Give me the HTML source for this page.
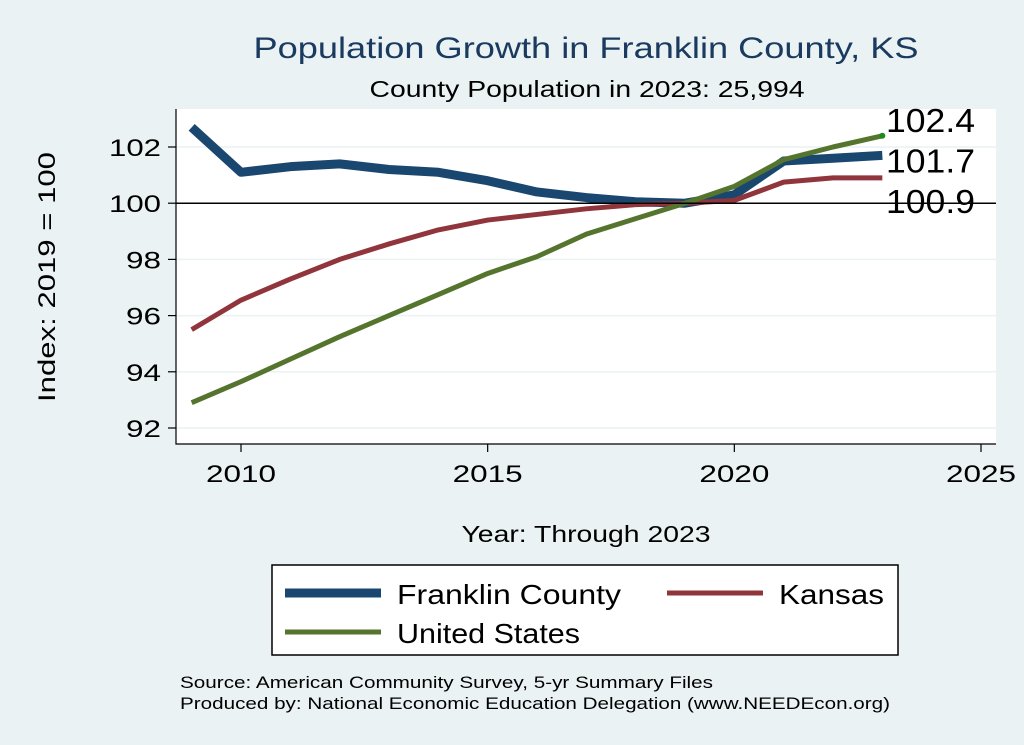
<!DOCTYPE html>
<html><head><meta charset="utf-8"><style>
body{margin:0;background:#eaf2f3;}
svg{display:block;font-family:"Liberation Sans",sans-serif;}
</style></head><body>
<svg width="1024" height="745" viewBox="0 0 1024 745">
<rect x="0" y="0" width="1024" height="745" fill="#eaf2f3"/>
<text x="586" y="58" font-size="30" fill="#1a3a60" text-anchor="middle" textLength="665" lengthAdjust="spacingAndGlyphs">Population Growth in Franklin County, KS</text>
<text x="587" y="97" font-size="23" fill="#000" text-anchor="middle" textLength="435" lengthAdjust="spacingAndGlyphs">County Population in 2023: 25,994</text>
<rect x="176" y="109" width="820" height="335" fill="#fff"/>
<g id="grid"></g>
<g id="lines"></g>
<g id="axes"></g>
<text transform="translate(55,277) rotate(-90)" font-size="24" text-anchor="middle" textLength="250" lengthAdjust="spacingAndGlyphs">Index: 2019 = 100</text>
<text x="586" y="542" font-size="23" text-anchor="middle" textLength="249" lengthAdjust="spacingAndGlyphs">Year: Through 2023</text>
<g>
<rect x="272" y="565" width="626" height="90" fill="#fff" stroke="#000" stroke-width="1.5"/>
<line x1="285" y1="593" x2="381" y2="593" stroke="#1a476f" stroke-width="9"/>
<text x="397" y="604" font-size="28" textLength="224" lengthAdjust="spacingAndGlyphs">Franklin  County</text>
<line x1="667" y1="593" x2="763" y2="593" stroke="#90353b" stroke-width="5"/>
<text x="779" y="604" font-size="28" textLength="105" lengthAdjust="spacingAndGlyphs">Kansas</text>
<line x1="285" y1="632" x2="381" y2="632" stroke="#55752f" stroke-width="5"/>
<text x="397" y="643" font-size="28" textLength="183" lengthAdjust="spacingAndGlyphs">United States</text>
</g>
<text x="180" y="688" font-size="17" textLength="533" lengthAdjust="spacingAndGlyphs">Source: American Community Survey, 5-yr Summary Files</text>
<text x="180" y="709" font-size="17" textLength="710" lengthAdjust="spacingAndGlyphs">Produced by: National Economic Education Delegation (www.NEEDEcon.org)</text>
</svg>
<script>
const years=[2009,2010,2011,2012,2013,2014,2015,2016,2017,2018,2019,2020,2021,2022,2023];
const franklin=[102.7,101.1,101.3,101.4,101.2,101.1,100.8,100.4,100.2,100.05,100,100.3,101.5,101.6,101.7];
const kansas=[95.5,96.55,97.3,98.0,98.55,99.05,99.4,99.6,99.8,99.95,100,100.1,100.75,100.9,100.9];
const us=[92.9,93.65,94.45,95.25,96.0,96.75,97.5,98.1,98.9,99.45,100,100.6,101.55,102.0,102.4];
const yTicks=[92,94,96,98,100,102];
const xTicks=[2010,2015,2020,2025];
const endLabels=["102.4","101.7","100.9"];
const NS="http://www.w3.org/2000/svg";
function X(v){return 241+(v-2010)*(981-241)/15;}
function Y(v){return 147+(102-v)*(428-147)/10;}
function mk(t,a,p){const e=document.createElementNS(NS,t);for(const k in a)e.setAttribute(k,a[k]);p.appendChild(e);return e;}
const grid=document.getElementById('grid'),axes=document.getElementById('axes'),lines=document.getElementById('lines');
yTicks.forEach(v=>{
 const g=mk('line',{x1:176,x2:996,y1:Y(v),y2:Y(v),stroke:'#eaf2f3','stroke-width':1.5},grid);
 
 
 const t=mk('line',{x1:168,x2:176,y1:Y(v),y2:Y(v),stroke:'#000','stroke-width':1.2},axes);
 
 
 const l=mk('text',{x:161,y:Y(v)+9,'font-size':24,'text-anchor':'end',textLength:52,lengthAdjust:'spacingAndGlyphs'},axes);l.textContent=v;
 if(String(v).length<3){l.setAttribute('textLength',35);}
 
 
});
xTicks.forEach(v=>{
 const t=mk('line',{x1:X(v),x2:X(v),y1:444,y2:452,stroke:'#000','stroke-width':1.2},axes);
 
 
 const l=mk('text',{x:X(v),y:482,'font-size':24,'text-anchor':'middle',textLength:70,lengthAdjust:'spacingAndGlyphs'},axes);l.textContent=v;
 
 
});
const ax=mk('path',{d:'M176 109V444H996',fill:'none',stroke:'#000','stroke-width':1.2},axes);


function series(vals,color,w,name){
 const p=mk('polyline',{points:vals.map((v,i)=>X(years[i])+','+Y(v)).join(' '),fill:'none',stroke:color,'stroke-width':w,'stroke-linejoin':'round'},lines);
 
 
}
series(franklin,'#1a476f',9,'line-franklin');
series(kansas,'#90353b',5,'line-kansas');
series(us,'#55752f',5,'line-us');
const last=years.length-1;
const dot=mk('circle',{cx:X(years[last]),cy:Y(us[last]),r:3,fill:'#1a8a1a'},lines);


const ref=mk('line',{x1:176,x2:996,y1:Y(100),y2:Y(100),stroke:'#000','stroke-width':1.5},lines);


const offs=[-4,17,35];
[us[last],franklin[last],kansas[last]].forEach((v,i)=>{
 const t=mk('text',{x:886,y:Y(v)+offs[i],'font-size':33,textLength:89,lengthAdjust:'spacingAndGlyphs'},lines);
 t.textContent=endLabels[i];
 
 
});
</script>
</body></html>
